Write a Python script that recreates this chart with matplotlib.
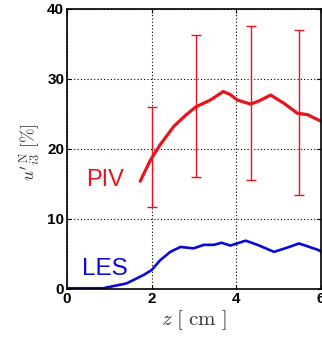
import matplotlib
matplotlib.use("Agg")
import matplotlib.pyplot as plt
import numpy as np

plt.rcParams['mathtext.fontset'] = 'cm'

# PIV mean profile (red) and LES profile (blue)
piv_z = [1.73, 1.97, 2.2, 2.52, 2.8, 3.04, 3.39, 3.69, 3.85, 4.02, 4.34, 4.55, 4.81, 5.13, 5.44, 5.68, 6.02]
piv_u = [15.4, 18.4, 20.6, 23.2, 24.8, 26.0, 27.0, 28.2, 27.8, 27.0, 26.4, 26.9, 27.7, 26.5, 25.1, 24.9, 23.9]

les_z = [0.0, 0.85, 1.41, 1.81, 2.0, 2.2, 2.44, 2.68, 2.99, 3.23, 3.47, 3.65, 3.86, 4.22, 4.5, 4.89, 5.2, 5.48, 5.92, 6.02]
les_u = [0.1, 0.1, 0.8, 2.0, 2.7, 4.1, 5.3, 6.0, 5.8, 6.3, 6.3, 6.6, 6.2, 6.9, 6.3, 5.3, 5.9, 6.5, 5.6, 5.3]

# PIV spread at selected stations
bar_z = [2.01, 3.04, 4.34, 5.47]
bar_mid = [18.7, 26.0, 26.4, 25.1]
bar_low = [11.7, 16.0, 15.6, 13.4]
bar_high = [26.0, 36.3, 37.6, 37.0]

x_ticks = [0, 2, 4, 6]
y_ticks = [0, 10, 20, 30, 40]

red = '#e8141c'
blue = '#0a0ad8'

fig = plt.figure(figsize=(3.22, 3.44), dpi=100)
ax = fig.add_axes([0.208, 0.16, 0.789, 0.814])

ax.plot(les_z, les_u, color=blue, lw=1.9, solid_capstyle='round')
ax.plot(piv_z, piv_u, color=red, lw=2.3, solid_capstyle='round')

mid = np.array(bar_mid)
yerr = [mid - np.array(bar_low), np.array(bar_high) - mid]
ax.errorbar(bar_z, bar_mid, yerr=yerr, fmt='none', ecolor=red, elinewidth=1.0,
            capsize=3.5, capthick=1.0)

ax.text(0.9, 15.6, 'PIV', color=red, fontsize=17, family='Liberation Sans',
        ha='center', va='center')
ax.text(0.9, 2.9, 'LES', color=blue, fontsize=17.5, family='Liberation Sans',
        ha='center', va='center')

ax.set_xlim(0, 6)
ax.set_ylim(0, 40)
ax.set_xticks(x_ticks)
ax.set_yticks(y_ticks)
ax.set_xticklabels([str(t) for t in x_ticks], fontsize=11, fontweight='bold',
                   family='Liberation Sans')
ax.set_yticklabels([str(t) for t in y_ticks], fontsize=11, fontweight='bold',
                   family='Liberation Sans')
ax.tick_params(direction='in', length=3, width=0.8, pad=2, top=True, right=True)
ax.grid(True, color='black', linestyle=(0, (1, 2)), linewidth=0.8)
for s in ax.spines.values():
    s.set_linewidth(1.2)

ax.set_xlabel(r"$z\ [\ \mathrm{cm}\ ]$", fontsize=15, color='#333333', labelpad=2)
ax.set_ylabel(r"$u'^{\,\mathrm{N}}_{i3}\ [\%]$", fontsize=12.5, color='#333333', labelpad=6)
ax.yaxis.set_label_coords(-0.10, 0.49)

fig.savefig('out.png', dpi=100)
